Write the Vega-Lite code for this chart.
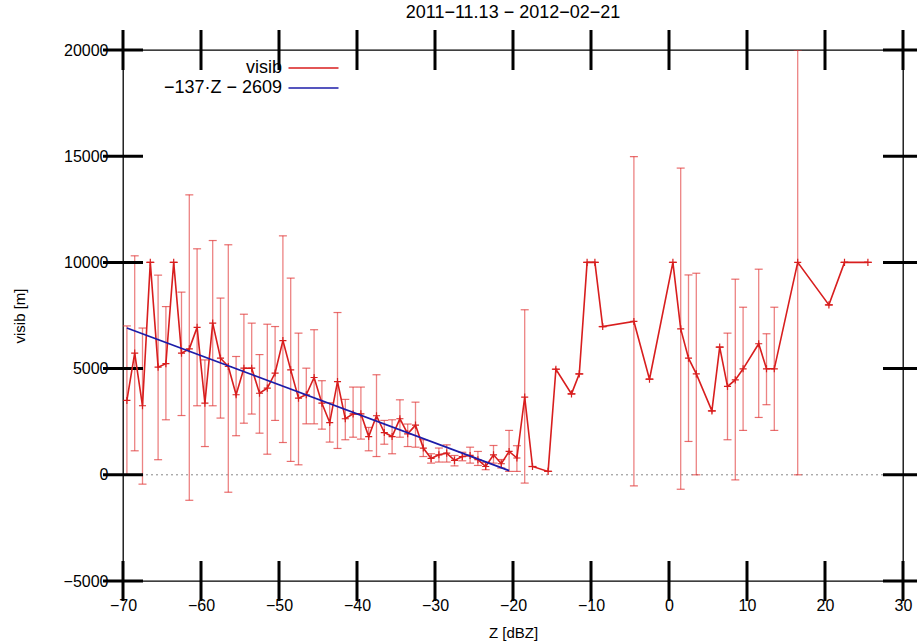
{
  "$schema": "https://vega.github.io/schema/vega-lite/v6.json",
  "width": 780,
  "height": 531,
  "autosize": {"type": "none"},
  "padding": {"left": 123, "top": 50, "right": 14, "bottom": 62},
  "background": "white",
  "title": {"text": "2011−11.13 − 2012−02−21", "font": "Liberation Sans", "fontSize": 18, "fontWeight": "normal", "color": "black", "offset": 8, "anchor": "middle"},
  "datasets": {
    "obs": [
      {"Z": -69.5, "visib": 3500, "lo": 0, "hi": 7010},
      {"Z": -68.5, "visib": 5730, "lo": 1130, "hi": 10310},
      {"Z": -67.5, "visib": 3250, "lo": -440, "hi": 6910},
      {"Z": -66.5, "visib": 10000, "lo": 10000, "hi": 10000},
      {"Z": -65.5, "visib": 5070, "lo": 710, "hi": 9400},
      {"Z": -64.5, "visib": 5230, "lo": 2590, "hi": 7920},
      {"Z": -63.5, "visib": 10000, "lo": 10000, "hi": 10000},
      {"Z": -62.5, "visib": 5730, "lo": 2790, "hi": 8600},
      {"Z": -61.5, "visib": 5930, "lo": -1200, "hi": 13180},
      {"Z": -60.5, "visib": 6940, "lo": 3250, "hi": 10640},
      {"Z": -59.5, "visib": 3370, "lo": 1330, "hi": 5410},
      {"Z": -58.5, "visib": 7140, "lo": 3250, "hi": 11030},
      {"Z": -57.5, "visib": 5490, "lo": 2670, "hi": 8320},
      {"Z": -56.5, "visib": 5100, "lo": -820, "hi": 10830},
      {"Z": -55.5, "visib": 3770, "lo": 1840, "hi": 5570},
      {"Z": -54.5, "visib": 5020, "lo": 2430, "hi": 7560},
      {"Z": -53.5, "visib": 5020, "lo": 2860, "hi": 7140},
      {"Z": -52.5, "visib": 3840, "lo": 1960, "hi": 5660},
      {"Z": -51.5, "visib": 4080, "lo": 970, "hi": 7090},
      {"Z": -50.5, "visib": 4790, "lo": 2560, "hi": 6980},
      {"Z": -49.5, "visib": 6320, "lo": 1520, "hi": 11250},
      {"Z": -48.5, "visib": 4940, "lo": 630, "hi": 9260},
      {"Z": -47.5, "visib": 3610, "lo": 470, "hi": 6670},
      {"Z": -46.5, "visib": 3770, "lo": 2400, "hi": 5020},
      {"Z": -45.5, "visib": 4580, "lo": 2400, "hi": 6830},
      {"Z": -44.5, "visib": 3370, "lo": 2150, "hi": 4430},
      {"Z": -43.5, "visib": 2460, "lo": 1540, "hi": 3390},
      {"Z": -42.5, "visib": 4390, "lo": 1240, "hi": 7640},
      {"Z": -41.5, "visib": 2640, "lo": 1650, "hi": 3550},
      {"Z": -40.5, "visib": 2870, "lo": 1770, "hi": 4130},
      {"Z": -39.5, "visib": 2870, "lo": 1680, "hi": 4130},
      {"Z": -38.5, "visib": 1800, "lo": 1130, "hi": 2230},
      {"Z": -37.5, "visib": 2780, "lo": 860, "hi": 4710},
      {"Z": -36.5, "visib": 1990, "lo": 1440, "hi": 2560},
      {"Z": -35.5, "visib": 1800, "lo": 990, "hi": 2590},
      {"Z": -34.5, "visib": 2640, "lo": 1770, "hi": 3530},
      {"Z": -33.5, "visib": 1930, "lo": 1330, "hi": 2390},
      {"Z": -32.5, "visib": 2340, "lo": 1300, "hi": 3420},
      {"Z": -31.5, "visib": 1260, "lo": 860, "hi": 1650},
      {"Z": -30.5, "visib": 770, "lo": 550, "hi": 990},
      {"Z": -29.5, "visib": 940, "lo": 600, "hi": 1260},
      {"Z": -28.5, "visib": 1020, "lo": 600, "hi": 1410},
      {"Z": -27.5, "visib": 680, "lo": 420, "hi": 910},
      {"Z": -26.5, "visib": 860, "lo": 660, "hi": 1060},
      {"Z": -25.5, "visib": 910, "lo": 550, "hi": 1300},
      {"Z": -24.5, "visib": 710, "lo": 440, "hi": 1100},
      {"Z": -23.5, "visib": 390, "lo": 240, "hi": 580},
      {"Z": -22.5, "visib": 940, "lo": 550, "hi": 1380},
      {"Z": -21.5, "visib": 520, "lo": 320, "hi": 720},
      {"Z": -20.5, "visib": 1100, "lo": 160, "hi": 2090},
      {"Z": -19.5, "visib": 790, "lo": 160, "hi": 1370},
      {"Z": -18.5, "visib": 3660, "lo": -390, "hi": 7770},
      {"Z": -17.5, "visib": 390, "lo": 390, "hi": 390},
      {"Z": -15.5, "visib": 160, "lo": 160, "hi": 160},
      {"Z": -14.5, "visib": 4970, "lo": 4970, "hi": 4970},
      {"Z": -12.5, "visib": 3810, "lo": 3810, "hi": 3810},
      {"Z": -11.5, "visib": 4750, "lo": 4750, "hi": 4750},
      {"Z": -10.5, "visib": 10000, "lo": 10000, "hi": 10000},
      {"Z": -9.5, "visib": 10000, "lo": 10000, "hi": 10000},
      {"Z": -8.5, "visib": 6980, "lo": 6980, "hi": 6980},
      {"Z": -4.5, "visib": 7220, "lo": -520, "hi": 14980},
      {"Z": -2.5, "visib": 4500, "lo": 4500, "hi": 4500},
      {"Z": 0.5, "visib": 10000, "lo": 10000, "hi": 10000},
      {"Z": 1.5, "visib": 6870, "lo": -680, "hi": 14440},
      {"Z": 2.5, "visib": 5490, "lo": 1570, "hi": 9410},
      {"Z": 3.5, "visib": 4750, "lo": 0, "hi": 9490},
      {"Z": 5.5, "visib": 3010, "lo": 3010, "hi": 3010},
      {"Z": 6.5, "visib": 6010, "lo": 6010, "hi": 6010},
      {"Z": 7.5, "visib": 4160, "lo": 1650, "hi": 6670},
      {"Z": 8.5, "visib": 4470, "lo": -240, "hi": 9210},
      {"Z": 9.5, "visib": 4990, "lo": 2090, "hi": 7890},
      {"Z": 11.5, "visib": 6170, "lo": 2700, "hi": 9680},
      {"Z": 12.5, "visib": 4990, "lo": 3300, "hi": 6640},
      {"Z": 13.5, "visib": 4990, "lo": 2090, "hi": 7890},
      {"Z": 16.5, "visib": 10000, "lo": 0, "hi": 20000},
      {"Z": 20.5, "visib": 8000, "lo": 8000, "hi": 8000},
      {"Z": 22.5, "visib": 10000, "lo": 10000, "hi": 10000},
      {"Z": 25.5, "visib": 10000, "lo": 10000, "hi": 10000}
    ],
    "fit": [
      {"Z": -69.5, "visib": 6912, "series": "−137·Z − 2609"},
      {"Z": -20.5, "visib": 200, "series": "−137·Z − 2609"}
    ],
    "xticks": [
      {"Z": -70, "visib": -5000}, {"Z": -60, "visib": -5000}, {"Z": -50, "visib": -5000}, {"Z": -40, "visib": -5000}, {"Z": -30, "visib": -5000}, {"Z": -20, "visib": -5000}, {"Z": -10, "visib": -5000}, {"Z": 0, "visib": -5000}, {"Z": 10, "visib": -5000}, {"Z": 20, "visib": -5000}, {"Z": 30, "visib": -5000},
      {"Z": -70, "visib": 20000}, {"Z": -60, "visib": 20000}, {"Z": -50, "visib": 20000}, {"Z": -40, "visib": 20000}, {"Z": -30, "visib": 20000}, {"Z": -20, "visib": 20000}, {"Z": -10, "visib": 20000}, {"Z": 0, "visib": 20000}, {"Z": 10, "visib": 20000}, {"Z": 20, "visib": 20000}, {"Z": 30, "visib": 20000}
    ],
    "yticks": [
      {"Z": -70, "visib": -5000}, {"Z": -70, "visib": 0}, {"Z": -70, "visib": 5000}, {"Z": -70, "visib": 10000}, {"Z": -70, "visib": 15000}, {"Z": -70, "visib": 20000},
      {"Z": 30, "visib": -5000}, {"Z": 30, "visib": 0}, {"Z": 30, "visib": 5000}, {"Z": 30, "visib": 10000}, {"Z": 30, "visib": 15000}, {"Z": 30, "visib": 20000}
    ]
  },
  "config": {
    "view": {"stroke": "black", "strokeWidth": 1.3},
    "axis": {
      "labelFont": "Liberation Sans", "labelFontSize": 16, "labelColor": "black", "labelFlush": false,
      "titleFont": "Liberation Sans", "titleFontSize": 15, "titleFontWeight": "normal", "titleColor": "black",
      "domain": false, "grid": false, "ticks": false, "format": "d"
    },
    "legend": {"labelFont": "Liberation Sans", "labelFontSize": 18, "labelColor": "black"}
  },
  "layer": [
    {
      "data": {"values": [{"y": 0}]},
      "mark": {"type": "rule", "color": "#888888", "strokeDash": [2, 3], "strokeWidth": 1},
      "encoding": {
        "y": {"field": "y", "type": "quantitative", "scale": {"domain": [-5000, 20000], "nice": false, "zero": false, "padding": 0}}
      }
    },
    {
      "data": {"name": "obs"},
      "mark": {"type": "rule", "color": "#e03030", "opacity": 0.6, "strokeWidth": 1.3, "clip": true},
      "encoding": {
        "x": {"field": "Z", "type": "quantitative", "scale": {"domain": [-70, 30], "nice": false, "zero": false, "padding": 0}},
        "y": {"field": "lo", "type": "quantitative"},
        "y2": {"field": "hi"}
      }
    },
    {
      "data": {"name": "obs"},
      "mark": {"type": "tick", "orient": "horizontal", "color": "#e03030", "opacity": 0.7, "size": 8, "thickness": 1.2, "clip": true},
      "encoding": {
        "x": {"field": "Z", "type": "quantitative", "scale": {"padding": 0}},
        "y": {"field": "lo", "type": "quantitative", "scale": {"padding": 0}}
      }
    },
    {
      "data": {"name": "obs"},
      "mark": {"type": "tick", "orient": "horizontal", "color": "#e03030", "opacity": 0.7, "size": 8, "thickness": 1.2, "clip": true},
      "encoding": {
        "x": {"field": "Z", "type": "quantitative", "scale": {"padding": 0}},
        "y": {"field": "hi", "type": "quantitative", "scale": {"padding": 0}}
      }
    },
    {
      "data": {"name": "xticks"},
      "mark": {"type": "tick", "orient": "vertical", "color": "#000000", "opacity": 1, "size": 40, "thickness": 3},
      "encoding": {
        "x": {"field": "Z", "type": "quantitative", "scale": {"padding": 0}},
        "y": {"field": "visib", "type": "quantitative", "scale": {"padding": 0}}
      }
    },
    {
      "data": {"name": "yticks"},
      "mark": {"type": "tick", "orient": "horizontal", "color": "#000000", "opacity": 1, "size": 40, "thickness": 3},
      "encoding": {
        "x": {"field": "Z", "type": "quantitative", "scale": {"padding": 0}},
        "y": {"field": "visib", "type": "quantitative", "scale": {"padding": 0}}
      }
    },
    {
      "data": {"name": "obs"},
      "transform": [{"calculate": "'visib'", "as": "series"}],
      "mark": {"type": "line", "strokeWidth": 1.6, "clip": true},
      "encoding": {
        "x": {"field": "Z", "type": "quantitative", "axis": {"orient": "bottom", "values": [-70, -60, -50, -40, -30, -20, -10, 0, 10, 20, 30], "title": "Z [dBZ]", "labelPadding": 16, "titlePadding": 12}},
        "y": {"field": "visib", "type": "quantitative", "axis": {"orient": "left", "values": [-5000, 0, 5000, 10000, 15000, 20000], "title": "visib [m]", "labelPadding": 15, "titlePadding": 36}},
        "color": {
          "field": "series", "type": "nominal",
          "scale": {"domain": ["visib", "−137·Z − 2609"], "range": ["#d81e1e", "#1c1ca8"]},
          "legend": {"orient": "none", "legendX": 179.5, "legendY": 7, "title": null, "symbolType": "M-2.5,0H2.5", "symbolSize": 400, "symbolStrokeWidth": 1.6, "labelAlign": "right", "labelOffset": -42.5, "rowPadding": 0, "padding": 0, "labelLimit": 300}
        }
      }
    },
    {
      "data": {"name": "obs"},
      "mark": {"type": "point", "shape": "M-1,0H1M0,-1V1", "filled": false, "size": 50, "color": "#d81e1e", "strokeWidth": 1.2, "opacity": 1, "clip": true},
      "encoding": {
        "x": {"field": "Z", "type": "quantitative"},
        "y": {"field": "visib", "type": "quantitative"}
      }
    },
    {
      "data": {"name": "fit"},
      "mark": {"type": "line", "strokeWidth": 1.8},
      "encoding": {
        "x": {"field": "Z", "type": "quantitative"},
        "y": {"field": "visib", "type": "quantitative"},
        "color": {"field": "series", "type": "nominal"}
      }
    }
  ]
}
